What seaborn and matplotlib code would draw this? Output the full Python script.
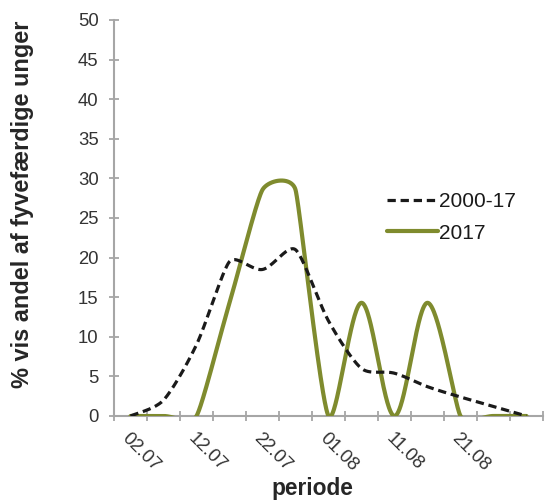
import numpy as np
import pandas as pd
import matplotlib
matplotlib.use("Agg")
import matplotlib.pyplot as plt
import seaborn as sns

# ---- data ----
categories = ["02.07", "07.07", "12.07", "17.07", "22.07", "27.07", "01.08",
              "06.08", "11.08", "16.08", "21.08", "26.08", "31.08"]
tick_labels = ["02.07", "", "12.07", "", "22.07", "", "01.08", "", "11.08", "", "21.08", "", ""]
series_avg = [0, 2.0, 9.0, 19.5, 18.5, 21.0, 12.0, 6.0, 5.4, 3.7, 2.4, 1.2, 0]
series_2017 = [0, 0, 0, 14.29, 28.57, 28.57, 0, 14.29, 0, 14.29, 0, 0, 0]
names = ["2000-17", "2017"]

sns.set_theme(style="white")
plt.rcParams['font.family'] = ['Liberation Sans', 'DejaVu Sans']

fig = plt.figure(figsize=(5.45, 5.01), dpi=100)
ax = fig.add_axes([114 / 545, 1 - 416 / 501, (543 - 114) / 545, (416 - 20) / 501])
ax.set_xlim(-0.5, len(categories) - 0.5)
ax.set_ylim(0, 50)


def smooth(y, n=60, damp=0.5):
    """Excel-like smoothed line: cubic Bezier segments computed in screen space,
    Catmull-Rom tangents damped where neighbouring segments differ in length."""
    P = ax.transData.transform(np.column_stack([np.arange(len(y), dtype=float), np.asarray(y, float)]))
    m = len(P)
    d = np.hypot(*(np.diff(P, axis=0).T))
    T = np.zeros_like(P)
    for i in range(m):
        a = P[i - 1] if i > 0 else P[i]
        b = P[i + 1] if i < m - 1 else P[i]
        r = 1.0
        if 0 < i < m - 1 and max(d[i - 1], d[i]) > 0:
            r = (min(d[i - 1], d[i]) / max(d[i - 1], d[i])) ** damp
        T[i] = (b - a) / 6.0 * r
    out = []
    for i in range(m - 1):
        p1, p2 = P[i], P[i + 1]
        c1 = p1 + T[i]
        c2 = p2 - T[i + 1]
        t = np.linspace(0, 1, n, endpoint=(i == m - 2))[:, None]
        seg = ((1 - t) ** 3) * p1 + 3 * ((1 - t) ** 2) * t * c1 + 3 * (1 - t) * t ** 2 * c2 + t ** 3 * p2
        out.append(seg)
    return ax.transData.inverted().transform(np.vstack(out))


frames = []
for name, vals in zip(names, [series_avg, series_2017]):
    c = smooth(vals)
    frames.append(pd.DataFrame({"x": c[:, 0], "y": c[:, 1], "serie": name}))
df = pd.concat(frames, ignore_index=True)

green = "#7F8B2E"
sns.lineplot(data=df, x="x", y="y", hue="serie", style="serie",
             palette={"2000-17": "#1a1a1a", "2017": green},
             dashes={"2000-17": (2.6, 1.5), "2017": ""},
             sort=False, estimator=None, ax=ax, legend=True)
lines = ax.get_lines()
lines[0].set_linewidth(2.3)
lines[0].set_zorder(4)
lines[1].set_linewidth(3.0)
lines[1].set_zorder(3)

ax.set_xlim(-0.5, len(categories) - 0.5)
ax.set_ylim(0, 50)
ax.set_yticks(np.arange(0, 51, 5))
ax.set_xticks(np.arange(len(categories)))
ax.set_xticklabels(tick_labels, rotation=-45, ha="left", va="top", rotation_mode="anchor")
ax.set_xticks(np.arange(-0.5, len(categories), 1.0), minor=True)

axis_gray = "#A6A6A6"
text_col = "#333333"
for s in ["top", "right"]:
    ax.spines[s].set_visible(False)
for s in ["left", "bottom"]:
    ax.spines[s].set_color(axis_gray)
    ax.spines[s].set_linewidth(1.5)

ax.tick_params(axis="x", which="major", length=0, pad=10, labelsize=13.3, labelcolor=text_col, bottom=True)
ax.tick_params(axis="x", which="minor", length=7, width=1.3, color=axis_gray, direction="inout", bottom=True)
ax.tick_params(axis="y", which="major", length=7, width=1.3, color=axis_gray, direction="inout",
               labelsize=13.3, labelcolor=text_col, pad=7.5, left=True)

ax.set_xlabel("periode", fontsize=16.4, fontweight="bold", color="#262626", va="center")
ax.xaxis.set_label_coords((312 - 114) / 429, (416 - 489) / 396)
ax.set_ylabel("% vis andel af fyvefærdige unger", fontsize=16.9, fontweight="bold",
              color="#262626", va="center")
ax.yaxis.set_label_coords((23 - 114) / 429, (416 - 204) / 396)
ax.grid(False)

handles, labels = ax.get_legend_handles_labels()
leg = ax.legend(handles, labels, loc="center left", bbox_to_anchor=(387 / 545, 1 - 217.5 / 501),
                bbox_transform=fig.transFigure, frameon=False, fontsize=15,
                handlelength=2.45, handletextpad=0.05, labelspacing=0.58, borderpad=0,
                borderaxespad=0)
for h in leg.get_lines():
    if h.get_label() == "2017":
        h.set_linewidth(3.0)
    else:
        h.set_linewidth(2.3)
for t in leg.get_texts():
    t.set_color("#1a1a1a")

fig.savefig("out.png", dpi=100, facecolor="white")
